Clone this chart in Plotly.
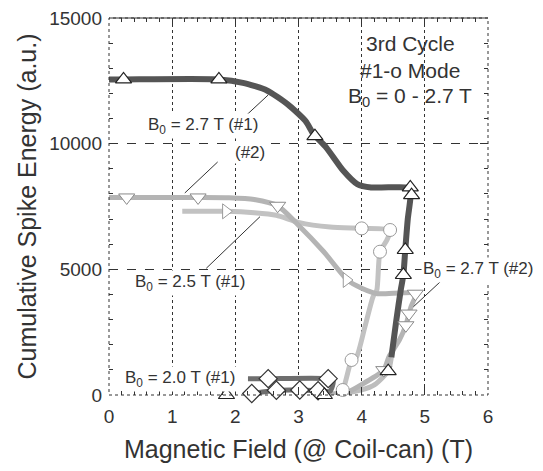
import plotly.graph_objects as go

# ---------------- data ----------------
# B0 = 2.7 T (#1): thick dark curve
x27a = [4.47, 4.55, 4.62, 4.66, 4.69, 4.73, 4.77, 4.77, 4.70, 4.15, 3.93, 3.71, 3.44, 3.24, 3.11, 2.83, 2.50, 2.12, 1.74, 0.23, 0.0]
y27a = [1500, 3000, 4200, 4775, 5770, 7000, 7800, 8180, 8260, 8260, 8392, 8920, 9845, 10374, 10903, 11563, 12118, 12420, 12555, 12555, 12555]
# its low-energy start (light band)
x27a_low = [3.41, 3.70, 4.00, 4.20, 4.42, 4.47]
y27a_low = [0, 60, 200, 400, 950, 1500]
# triangle-up markers of B0 = 2.7 T (#1)
mx27a = [0.23, 1.74, 3.26, 4.77, 4.79, 4.69, 4.66, 4.42, 1.86, 3.41]
my27a = [12555, 12555, 10300, 8260, 7950, 5770, 4775, 950, 0, 0]

# B0 = 2.7 T (#2): light curve, triangle-down markers
x27b = [0.0, 0.28, 1.41, 1.90, 2.30, 2.67, 2.98, 3.40, 3.78, 4.00, 4.25, 4.85, 4.78, 4.75, 4.70, 4.60, 4.43, 4.35, 4.04, 3.78, 3.50]
y27b = [7860, 7860, 7860, 7850, 7780, 7530, 6806, 5700, 4560, 4250, 4030, 4030, 3500, 3240, 2775, 2200, 1507, 990, 476, 119, 40]
mx27b = [0.28, 1.41, 2.67, 4.85, 4.75, 4.70, 4.35]
my27b = [7860, 7860, 7530, 4030, 3240, 2775, 990]

# B0 = 2.5 T (#1): light curve, circle markers
x25 = [1.16, 1.85, 2.30, 2.65, 3.00, 3.50, 4.00, 4.45, 4.40, 4.29, 4.24, 4.18, 4.05, 3.92, 3.84, 3.70, 3.60]
y25 = [7308, 7308, 7250, 7150, 6870, 6680, 6630, 6565, 6167, 5702, 4178, 3911, 2700, 1524, 1393, 199, 30]
mx25 = [1.85, 3.76, 4.00, 4.45, 4.29, 3.84, 3.70]
my25 = [7308, 4576, 6630, 6565, 5702, 1393, 199]
ms25 = ["triangle-right", "triangle-right", "circle", "circle", "circle", "circle", "circle"]

# B0 = 2.0 T (#1): diamond markers
x20 = [2.26, 2.65, 3.02, 3.31, 3.50, 3.55, 3.47, 2.52, 2.20]
y20 = [60, 190, 200, 170, 150, 550, 650, 650, 650]
mx20 = [2.26, 2.65, 3.02, 3.31, 3.47, 2.52]
my20 = [60, 190, 200, 170, 650, 650]

x_ticks = [0, 1, 2, 3, 4, 5, 6]
x_tick_text = ["0", "1", "2", "3", "4", "5", "6"]
y_ticks = [0, 5000, 10000, 15000]
y_tick_text = ["0", "5000", "10000", "15000"]

FONT = "Liberation Sans, Arial, sans-serif"
TXT = "#333333"

fig = go.Figure()

def line(x, y, color, width):
    fig.add_trace(go.Scatter(x=x, y=y, mode="lines", line=dict(color=color, width=width, shape="spline", smoothing=0.6),
                             hoverinfo="skip", showlegend=False, cliponaxis=False))

def marks(x, y, symbol, outline, size=13, lw=1.2):
    fig.add_trace(go.Scatter(x=x, y=y, mode="markers",
                             marker=dict(symbol=symbol, size=size, color="white", line=dict(color=outline, width=lw)),
                             hoverinfo="skip", showlegend=False, cliponaxis=False))

line(x27a_low, y27a_low, "#bdbdbd", 5)
line(x25, y25, "#c2c2c2", 5)
line(x27b, y27b, "#b4b4b4", 5)
line(x20, y20, "#6e6e6e", 5)
line(x27a, y27a, "#555555", 6)

marks(mx25, my25, ms25, "#9a9a9a", 13, 1)
marks(mx27b, my27b, "triangle-down", "#8a8a8a", 14, 1)
marks(mx20, my20, "diamond", "#333333", 14, 1.2)
marks(mx27a, my27a, "triangle-up", "#222222", 14, 1.2)

# ---------------- annotations ----------------
def label(text, x, y, size=17, bg=True):
    fig.add_annotation(x=x, y=y, xref="x", yref="y", text=text, showarrow=False,
                       font=dict(family=FONT, size=size, color=TXT),
                       bgcolor="white" if bg else None, borderpad=1)

label("B<sub>0</sub> = 2.7 T (#1)", 1.49, 10700)
label("(#2)", 2.23, 9650)
label("B<sub>0</sub> = 2.5 T (#1)", 1.28, 4450)
label("B<sub>0</sub> = 2.7 T (#2)", 5.84, 4980)
label("B<sub>0</sub> = 2.0 T (#1)", 1.12, 620)

for (xa, ya, xb, yb) in [(2.15, 11074, 2.52, 11937), (1.72, 9271, 1.20, 8038),
                         (1.54, 5041, 2.39, 7095), (5.32, 4683, 4.82, 3513)]:
    fig.add_shape(type="line", x0=xa, y0=ya, x1=xb, y1=yb, xref="x", yref="y",
                  line=dict(color="#333333", width=1))

for txt, yy in [("3rd Cycle", 14000), ("#1-o Mode", 12900), ("B<sub>0</sub> = 0 - 2.7 T", 11850)]:
    fig.add_annotation(x=4.77, y=yy, xref="x", yref="y", showarrow=False, text=txt,
                       font=dict(family=FONT, size=21, color=TXT))

# frame
fig.add_shape(type="rect", xref="paper", yref="paper", x0=0, y0=0, x1=1, y1=1,
              line=dict(color="#333333", width=1, dash="dot"), layer="above")
fig.add_shape(type="line", xref="paper", yref="paper", x0=0, y0=1, x1=1, y1=1,
              line=dict(color="#333333", width=1), layer="above")

axis_common = dict(showline=False, ticks="inside", mirror="ticks", tickcolor="#333333", automargin=False,
                   tickfont=dict(family=FONT, size=19, color=TXT), zeroline=False,
                   gridcolor="#333333", gridwidth=1, ticklabeloverflow="allow")

fig.update_xaxes(range=[0, 6], tickvals=x_ticks, ticktext=x_tick_text, ticklen=8, griddash="dot",
                 ticklabelstandoff=8,
                 minor=dict(dtick=0.2, ticks="inside", ticklen=4, tickcolor="#333333", showgrid=False),
                 title=dict(text="Magnetic Field (@ Coil-can) (T)", font=dict(family=FONT, size=25, color=TXT), standoff=14),
                 **axis_common)
fig.update_yaxes(range=[0, 15000], tickvals=y_ticks, ticktext=y_tick_text, ticklen=8, griddash="dash",
                 ticklabelstandoff=6,
                 minor=dict(dtick=1000, ticks="inside", ticklen=4, tickcolor="#333333", showgrid=False),
                 title=dict(text="Cumulative Spike Energy (a.u.)", font=dict(family=FONT, size=25, color=TXT), standoff=5),
                 **axis_common)

# the page body adds an 8 px offset, so the figure is sized to fit the window
fig.update_layout(width=535, height=463, margin=dict(l=101, r=55, t=10, b=76),
                  plot_bgcolor="white", paper_bgcolor="white", showlegend=False)

fig.write_html("out.html")
